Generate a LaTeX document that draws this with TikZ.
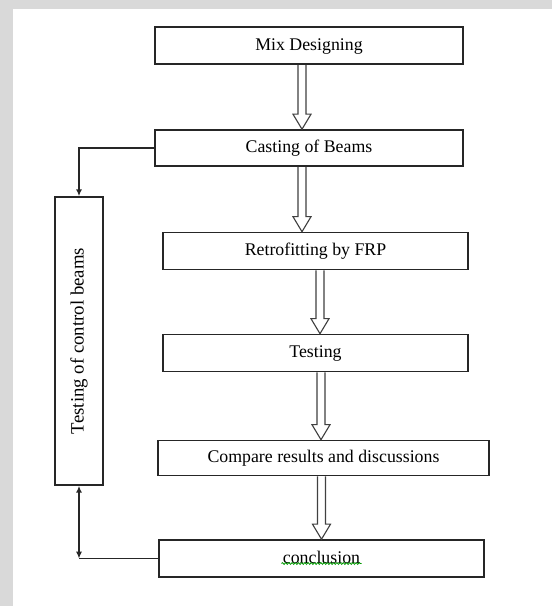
\documentclass[tikz,border=0pt]{standalone}
\usepackage{fontspec}
\setmainfont{Liberation Serif}
\usepackage{graphicx}
\usetikzlibrary{calc,arrows.meta,decorations.pathmorphing}

% open double-lined arrow going down from one box to the next, at x = #1
\newcommand{\hollowdown}[3]{%
  \coordinate (ax) at (#1,0);
  \coordinate (at) at (#2.south -| ax);
  \coordinate (ab) at (#3.north -| ax);
  \draw[hollow] ($(at)+(-4,0)$) -- ($(ab)+(-4,15)$) -- ($(ab)+(-9,15)$) -- (ab)
    -- ($(ab)+(9,15)$) -- ($(ab)+(4,15)$) -- ($(at)+(4,0)$);
}

\begin{document}
\begin{tikzpicture}[x=0.5pt,y=0.5pt,
  stage/.style={draw=black!85,line width=0.8pt,inner sep=0pt,
    text height=0.75em,text depth=0.25em,font=\fontsize{8.9}{10.5}\selectfont},
  hollow/.style={draw=black!75,line width=0.55pt,line join=miter},
  feed/.style={draw=black!85,line width=0.8pt},
  tip/.style={-{Latex[length=3.4pt,width=3pt]}}]
\fill[black!15] (0,0) rectangle (552,606);
\fill[white] (13,0) rectangle (552,597);
\useasboundingbox (0,0) rectangle (552,606);

% main column
\node[stage,minimum width=154pt,minimum height=18.5pt] (mix) at (309,560.5) {Mix Designing};
\node[stage,minimum width=154pt,minimum height=18pt] (cast) at (309,458) {Casting of Beams};
\node[stage,minimum width=152.5pt,minimum height=18.5pt] (retro) at (315.5,355) {Retrofitting by FRP};
\node[stage,minimum width=152.5pt,minimum height=18.5pt] (test) at (315.5,253) {Testing};
\node[stage,minimum width=165.5pt,minimum height=17.5pt] (comp) at (323.5,148) {Compare results and discussions};
\node[stage,minimum width=162.5pt,minimum height=18.5pt] (concl) at (321.5,47.5) {conclusion};

% side box
\node[stage,minimum width=24pt,minimum height=144pt,text height=,text depth=,
  font=\fontsize{9.4}{11}\selectfont] (ctl) at (79,265)
  {\rotatebox{90}{Testing of control beams}};

\hollowdown{302}{mix}{cast}
\hollowdown{302}{cast}{retro}
\hollowdown{320}{retro}{test}
\hollowdown{321}{test}{comp}
\hollowdown{321.5}{comp}{concl}

% side connections
\draw[feed,tip] (cast.west) -| (ctl.north);
\coordinate (cb) at (ctl.south |- concl.west);
\draw[feed,{Latex[length=3.4pt,width=3pt]}-{Latex[length=3.4pt,width=3pt]}] (ctl.south) -- (cb);
\draw[feed] (cb) -- (concl.west);

% spell-check mark
\draw[green!60!black,line width=0.4pt,decorate,
  decoration={snake,segment length=1.6pt,amplitude=0.45pt}]
  ($(concl.center)+(-40,-5)$) -- ($(concl.center)+(40,-5)$);
\end{tikzpicture}
\end{document}
